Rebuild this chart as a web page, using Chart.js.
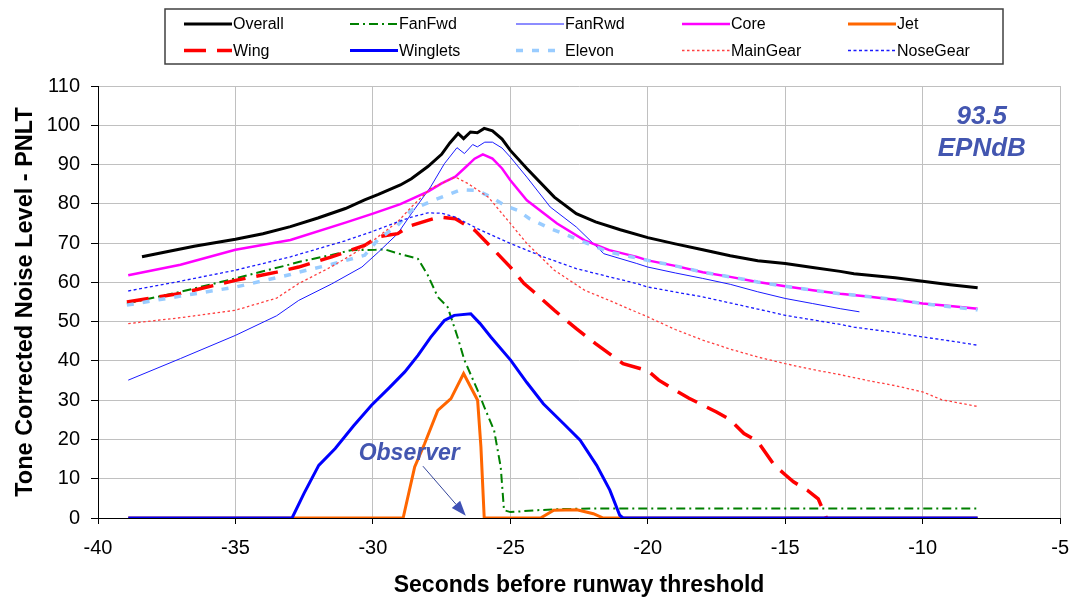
<!DOCTYPE html>
<html>
<head>
<meta charset="utf-8">
<script src="https://cdn.jsdelivr.net/npm/chart.js@4"></script>
<style>
  html, body { margin: 0; padding: 0; background: #ffffff; }
  #wrap { width: 1081px; height: 607px; }
</style>
</head>
<body>
<div id="wrap"><canvas id="c" width="1081" height="607"></canvas></div>
<script>
// Axis ticks
const xTicks = [-40, -35, -30, -25, -20, -15, -10, -5];
const yTicks = [0, 10, 20, 30, 40, 50, 60, 70, 80, 90, 100, 110];

// Series names, in legend order (row by row)
const seriesNames = ['Overall', 'FanFwd', 'FanRwd', 'Core', 'Jet',
                     'Wing', 'Winglets', 'Elevon', 'MainGear', 'NoseGear'];

// Time (s before threshold) and PNLT per noise source
const overallX = [-38.4,-37.5,-36.5,-35,-34,-33,-32,-31,-30.3,-29.8,-29,-28.6,-28,-27.5,-27.2,-26.9,-26.7,-26.45,-26.2,-25.95,-25.65,-25.3,-25,-24.4,-23.4,-22.6,-21.9,-21,-20,-19,-18,-17,-16,-15,-14,-13,-12.5,-11,-10,-9,-8];
const overallY = [66.5,67.8,69.2,71,72.4,74.2,76.4,78.8,81,82.4,84.8,86.4,89.5,92.6,95.5,97.9,96.6,98.3,98.1,99.2,98.6,96.5,93.6,89,81.7,77.5,75.4,73.4,71.4,69.8,68.3,66.8,65.5,64.8,63.8,62.8,62.2,61.2,60.3,59.4,58.6];

const fanFwdX = [-38.95,-37,-35,-33,-32.7,-31.5,-30.8,-29.9,-29.56,-29.2,-28.84,-28.36,-28,-27.64,-27.28,-26.92,-26.67,-26.19,-25.95,-25.59,-25.35,-25.23,-25,-24,-23,-22,-20,-15,-10,-8];
const fanFwdY = [54.6,57.6,61,64.6,65.2,67,68.2,68.3,68.4,67.6,66.9,66,61.8,56.3,53.7,46.1,40.2,32.5,28.3,22.3,13,2,1.5,2,2.3,2.4,2.4,2.4,2.4,2.4];

const fanRwdX = [-38.9,-37,-35,-33.5,-32.7,-31.5,-30.4,-29.8,-29.1,-28.6,-27.9,-27.4,-26.94,-26.67,-26.37,-26.2,-25.93,-25.65,-25.3,-25,-24.4,-23.55,-22.6,-21.6,-20.4,-20,-19,-18,-17,-16,-15,-14,-13,-12.3];
const fanRwdY = [35.1,40.6,46.5,51.5,55.4,59.6,63.9,67.7,72.4,77.5,84.3,90.2,94.3,92.8,95.1,94.5,95.7,95.7,94.2,91.9,86.8,79.2,74.1,67.3,64.8,63.9,62.4,61,59.5,57.6,55.9,54.6,53.3,52.5];

const coreX = [-38.9,-37,-35,-33,-31,-30,-29,-28,-27.5,-27,-26.6,-26.3,-26,-25.65,-25.3,-25,-24.4,-23.3,-22.3,-21.4,-20.4,-20,-19,-18,-17,-16,-15,-14,-13,-12,-11,-10,-9,-8];
const coreY = [61.8,64.5,68.3,70.8,75.2,77.5,79.9,83.1,85.2,86.9,89.5,91.5,92.6,91.5,89,86,80.9,75,70.7,68.2,66.5,65.6,64.2,62.6,61.4,60.1,59,58,57.1,56.4,55.6,54.6,54,53.3];

const jetX = [-38.9,-28.9,-28.48,-28.12,-27.64,-27.16,-26.7,-26.19,-26.07,-25.95,-23.9,-23.42,-22.58,-21.98,-21.62,-8];
const jetY = [0,0,13,18.9,27.4,30.4,36.8,30,18.1,0,0,1.96,2.1,1.1,0,0];

const wingX = [-38.95,-37,-35,-33.5,-32.7,-31.5,-30.3,-29.8,-29.1,-28.6,-28,-27.6,-27,-26.3,-25.7,-25,-24.5,-24.15,-23.4,-22.6,-21.9,-20.9,-20,-19.6,-19,-18.5,-17.5,-17,-16.5,-16,-15.4,-15,-14.7,-14.2,-13.8,-13.5];
const wingY = [55,57.2,60.5,62.6,63.9,66.5,69.4,71.6,72.4,74.5,75.8,76.6,76.2,73.3,69,63.9,59.7,57.6,52.9,48.2,44.4,39.3,37.5,35.1,32.5,30.5,27,25,21.5,19.5,13.5,11,9.2,7.1,4.9,0];

const wingletsX = [-38.9,-32.94,-32.51,-31.97,-31.37,-30.7,-30.05,-29.4,-28.84,-28.36,-27.9,-27.4,-27.04,-26.44,-26.1,-25.71,-24.99,-24.4,-23.8,-23.06,-22.46,-21.86,-21.38,-21.02,-20.9,-8];
const wingletsY = [0,0,6.2,13.4,17.7,23.5,28.7,33.2,37.2,41.4,46,50.3,51.6,52,49.5,46.1,40.2,34.5,29.1,24,19.8,13.4,7.1,0.7,0,0];

const elevonX = [-38.95,-37,-35,-33,-32.7,-31.5,-30.3,-29.8,-29.1,-28.6,-27.8,-26.8,-26.2,-25.7,-25.2,-24.75,-24.3,-23.55,-23.06,-22.34,-21.4,-20.66,-20,-19,-18,-17,-16,-15,-14,-13,-12,-11,-10,-9,-8];
const elevonY = [54.2,56.5,58.8,62,62.6,64.6,66.9,71,74.5,78.4,80.9,83.6,83.4,81.7,79.6,78.4,76.2,73.7,72.4,70.3,67.7,66.6,65.6,64.2,62.6,61.4,60.1,59,58,57.1,56.4,55.6,54.6,53.8,53];

const mainGearX = [-38.9,-37,-35,-33.5,-32.7,-31.5,-30.3,-29.1,-28.6,-27.9,-27,-26.55,-25.8,-25,-24.4,-23.4,-22.3,-21.4,-20,-19,-18,-17,-16,-15,-14,-13,-12,-11,-10,-9.3,-8];
const mainGearY = [49.5,51,52.9,56,59.7,64,69,75.4,79.2,83.9,86.8,85.2,81.7,75,69.9,63.1,58,55.4,51.2,48,45.3,43,41,39.3,37.8,36.5,35,33.7,32.1,30.1,28.4];

const noseGearX = [-38.9,-37,-35,-33,-31,-30,-29.1,-28.6,-28,-27.5,-27,-26.2,-25,-23.8,-22.6,-21.4,-20.4,-20,-18,-16,-15,-13,-12.5,-11,-10,-9,-8];
const noseGearY = [57.8,60.3,63.1,66.5,70.6,73,75.4,76.6,77.7,77.6,76.6,73.7,69.9,66.5,63.5,61.4,59.7,58.8,56.3,53.2,51.6,49.3,48.6,47.2,46.1,45.1,44];

const seriesX = [overallX, fanFwdX, fanRwdX, coreX, jetX, wingX, wingletsX, elevonX, mainGearX, noseGearX];
const seriesY = [overallY, fanFwdY, fanRwdY, coreY, jetY, wingY, wingletsY, elevonY, mainGearY, noseGearY];

// Line styles per series
const styles = [
  { color: '#000000', width: 3,   dash: [] },
  { color: '#008000', width: 2,   dash: [9, 4, 2, 4] },
  { color: '#1a1aff', width: 1,   dash: [] },
  { color: '#ff00ff', width: 2.5, dash: [] },
  { color: '#ff6600', width: 3,   dash: [] },
  { color: '#ff0000', width: 3.5, dash: [22, 11] },
  { color: '#0000ff', width: 3,   dash: [] },
  { color: '#99ccff', width: 3.5, dash: [7, 9] },
  { color: '#ff4040', width: 1.3, dash: [2.5, 2.5] },
  { color: '#1a1aff', width: 1.3, dash: [3, 2.5] }
];

const FONT = "'Liberation Sans', Arial, sans-serif";
const ANNOT = '#4356b0';

const datasets = seriesNames.map((name, i) => ({
  label: name,
  data: seriesX[i].map((x, k) => ({ x: x, y: seriesY[i][k] })),
  borderColor: styles[i].color,
  backgroundColor: styles[i].color,
  borderWidth: styles[i].width,
  borderDash: styles[i].dash,
  pointRadius: 0,
  tension: 0,
  fill: false,
  order: seriesNames.length - i
}));

// Boxed five-column legend at the top
const boxLegend = {
  id: 'boxLegend',
  afterDraw(chart) {
    const ctx = chart.ctx;
    const left = 165, top = 9, right = 1003, bottom = 64;
    ctx.save();
    ctx.strokeStyle = '#404040';
    ctx.lineWidth = 1.5;
    ctx.strokeRect(left, top, right - left, bottom - top);
    ctx.font = '16px ' + FONT;
    ctx.textBaseline = 'middle';
    ctx.fillStyle = '#000';
    chart.data.datasets.forEach((ds, i) => {
      const col = i % 5, row = Math.floor(i / 5);
      const x0 = 184 + col * 166;
      const y = row === 0 ? 24 : 50.5;
      ctx.save();
      ctx.strokeStyle = ds.borderColor;
      ctx.lineWidth = ds.borderWidth;
      ctx.setLineDash(ds.borderDash || []);
      ctx.beginPath();
      ctx.moveTo(x0, y);
      ctx.lineTo(x0 + 48, y);
      ctx.stroke();
      ctx.restore();
      ctx.fillText(ds.label, x0 + 49, y + 1);
    });
    ctx.restore();
  }
};

// Certification level and observer marker
const notes = {
  id: 'notes',
  afterDatasetsDraw(chart) {
    const ctx = chart.ctx;
    const xs = chart.scales.x, ys = chart.scales.y;
    ctx.save();
    ctx.fillStyle = ANNOT;
    ctx.textAlign = 'center';
    ctx.textBaseline = 'alphabetic';
    ctx.font = 'italic bold 26px ' + FONT;
    ctx.fillText('93.5', xs.getPixelForValue(-7.85), ys.getPixelForValue(100.3));
    ctx.fillText('EPNdB', xs.getPixelForValue(-7.85), ys.getPixelForValue(92.2));
    ctx.font = 'italic bold 23px ' + FONT;
    ctx.fillText('Observer', xs.getPixelForValue(-28.68), ys.getPixelForValue(14.8));

    // arrow toward the observer position on the time axis
    const x1 = xs.getPixelForValue(-28.18), y1 = ys.getPixelForValue(13.2);
    const x2 = xs.getPixelForValue(-26.62), y2 = ys.getPixelForValue(0.6);
    const ang = Math.atan2(y2 - y1, x2 - x1);
    const head = 15, half = 5.5;
    const bx = x2 - head * Math.cos(ang), by = y2 - head * Math.sin(ang);
    ctx.strokeStyle = '#33449a';
    ctx.lineWidth = 1;
    ctx.beginPath();
    ctx.moveTo(x1, y1);
    ctx.lineTo(bx, by);
    ctx.stroke();
    ctx.fillStyle = '#3f51b5';
    ctx.beginPath();
    ctx.moveTo(x2, y2);
    ctx.lineTo(bx + half * Math.sin(ang), by - half * Math.cos(ang));
    ctx.lineTo(bx - half * Math.sin(ang), by + half * Math.cos(ang));
    ctx.closePath();
    ctx.fill();
    ctx.restore();
  }
};

new Chart(document.getElementById('c'), {
  type: 'line',
  data: { datasets: datasets },
  options: {
    responsive: false,
    animation: false,
    events: [],
    layout: { padding: { top: 86, right: 14, left: 0, bottom: 0 } },
    plugins: { legend: { display: false }, tooltip: { enabled: false } },
    scales: {
      x: {
        type: 'linear',
        min: -40, max: -5,
        afterBuildTicks: s => { s.ticks = xTicks.map(v => ({ value: v })); },
        afterFit: s => { s.height = 89; },
        grid: { color: '#c0c0c0', lineWidth: 1, tickLength: 6, tickColor: '#000', drawTicks: true },
        border: { color: '#000', width: 1 },
        ticks: { color: '#000', font: { family: FONT, size: 20 }, padding: 12, maxRotation: 0 },
        title: { display: true, text: 'Seconds before runway threshold', color: '#000',
                 font: { family: FONT, size: 23, weight: 'bold' }, padding: { top: 0, bottom: 8 } }
      },
      y: {
        type: 'linear',
        min: 0, max: 110,
        afterBuildTicks: s => { s.ticks = yTicks.map(v => ({ value: v })); },
        afterFit: s => { s.width = 98; },
        grid: { color: '#c0c0c0', lineWidth: 1, tickLength: 7, tickColor: '#000', drawTicks: true },
        border: { color: '#000', width: 1 },
        ticks: { color: '#000', font: { family: FONT, size: 20 }, padding: 11 },
        title: { display: true, text: 'Tone Corrected Noise Level - PNLT', color: '#000',
                 font: { family: FONT, size: 23.5, weight: 'bold' }, padding: { top: 11, bottom: 0 } }
      }
    }
  },
  plugins: [boxLegend, notes]
});
</script>
</body>
</html>
